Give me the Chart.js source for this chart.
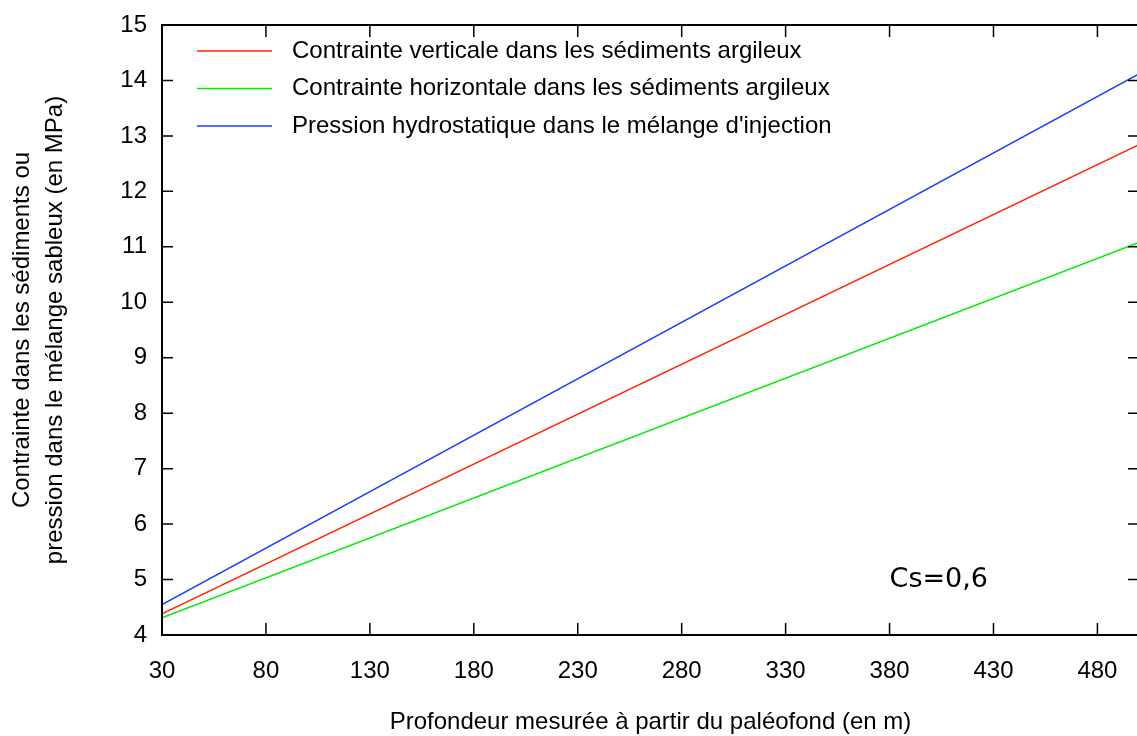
<!DOCTYPE html>
<html>
<head>
<meta charset="utf-8">
<script src="https://cdn.jsdelivr.net/npm/chart.js@4"></script>
<style>
  body { margin: 0; background: #fff; }
  #wrap { width: 1137px; height: 736px; overflow: hidden; }
</style>
</head>
<body>
<div id="wrap"><canvas id="chart" width="1142" height="736"></canvas></div>
<script>
// data (depth in m, values in MPa)
const depths = [30, 500];
const verticalStress = [4.38, 12.84];
const horizontalStress = [4.31, 11.08];
const hydroPressure = [4.55, 14.12];

const xTicks = [30, 80, 130, 180, 230, 280, 330, 380, 430, 480];
const yTicks = [4, 5, 6, 7, 8, 9, 10, 11, 12, 13, 14, 15];

const seriesLabels = [
  'Contrainte verticale dans les sédiments argileux',
  'Contrainte horizontale dans les sédiments argileux',
  'Pression hydrostatique dans le mélange d\'injection'
];
const seriesColors = ['rgb(255,40,0)', 'rgb(0,235,0)', 'rgb(25,60,255)'];
const noteText = 'Cs=0,6';

const FONT = '"Liberation Sans", Arial, Helvetica, sans-serif';

const toPoints = vals => vals.map((v, i) => ({ x: depths[i], y: v }));

// frame with inward ticks on all four sides, legend and note
const framePlugin = {
  id: 'frame',
  afterDraw(chart) {
    const { ctx, chartArea: a, scales: { x, y } } = chart;
    ctx.save();
    ctx.strokeStyle = '#000';
    ctx.lineWidth = 1.5;
    ctx.beginPath();
    xTicks.forEach(v => {
      const px = x.getPixelForValue(v);
      ctx.moveTo(px, a.bottom); ctx.lineTo(px, a.bottom - 12);
      ctx.moveTo(px, a.top); ctx.lineTo(px, a.top + 12);
    });
    yTicks.forEach(v => {
      const py = y.getPixelForValue(v);
      ctx.moveTo(a.left, py); ctx.lineTo(a.left + 11, py);
      ctx.moveTo(a.right, py); ctx.lineTo(a.right - 11, py);
    });
    ctx.stroke();
    ctx.lineWidth = 2;
    ctx.strokeRect(a.left, a.top, a.right - a.left, a.bottom - a.top);

    // legend
    ctx.font = '24px ' + FONT;
    ctx.textBaseline = 'middle';
    ctx.fillStyle = '#000';
    ctx.lineWidth = 1.5;
    seriesLabels.forEach((lab, i) => {
      const ly = a.top + 26 + i * 37.5;
      ctx.strokeStyle = seriesColors[i];
      ctx.beginPath();
      ctx.moveTo(a.left + 35, ly); ctx.lineTo(a.left + 110, ly);
      ctx.stroke();
      ctx.fillText(lab, a.left + 130, ly);
    });

    // note
    ctx.font = '27px "DejaVu Sans", sans-serif';
    ctx.fillText(noteText, x.getPixelForValue(380), y.getPixelForValue(5));
    ctx.restore();
  }
};

new Chart(document.getElementById('chart'), {
  type: 'line',
  data: {
    datasets: [
      { label: seriesLabels[0], data: toPoints(verticalStress), borderColor: seriesColors[0] },
      { label: seriesLabels[1], data: toPoints(horizontalStress), borderColor: seriesColors[1] },
      { label: seriesLabels[2], data: toPoints(hydroPressure), borderColor: seriesColors[2] }
    ]
  },
  options: {
    responsive: false,
    animation: false,
    layout: { padding: { top: 25, right: 3, left: 0, bottom: 0 } },
    elements: {
      point: { radius: 0 },
      line: { borderWidth: 1.5, tension: 0 }
    },
    plugins: {
      legend: { display: false },
      tooltip: { enabled: false }
    },
    scales: {
      x: {
        type: 'linear',
        min: 30,
        max: 500,
        grid: { display: false, drawTicks: false },
        border: { display: false },
        afterBuildTicks: s => { s.ticks = xTicks.map(v => ({ value: v })); },
        afterFit: s => { s.height = 101; s.paddingLeft = 0; s.paddingRight = 0; },
        ticks: { color: '#000', padding: 22, maxRotation: 0, font: { family: FONT, size: 24 } },
        title: {
          display: true,
          text: 'Profondeur mesurée à partir du paléofond (en m)',
          color: '#000',
          font: { family: FONT, size: 24, lineHeight: 1.15 },
          padding: { top: 0, bottom: 0 }
        }
      },
      y: {
        min: 4,
        max: 15,
        grid: { display: false, drawTicks: false },
        border: { display: false },
        afterBuildTicks: s => { s.ticks = yTicks.map(v => ({ value: v })); },
        afterFit: s => { s.width = 162; s.paddingTop = 0; s.paddingBottom = 0; },
        ticks: { color: '#000', padding: 15, font: { family: FONT, size: 24 } },
        title: {
          display: true,
          text: ['Contrainte dans les sédiments ou', 'pression dans le mélange sableux (en MPa)'],
          color: '#000',
          font: { family: FONT, size: 24, lineHeight: '33px' },
          padding: { top: 6, bottom: 0 }
        }
      }
    }
  },
  plugins: [framePlugin]
});
</script>
</body>
</html>
